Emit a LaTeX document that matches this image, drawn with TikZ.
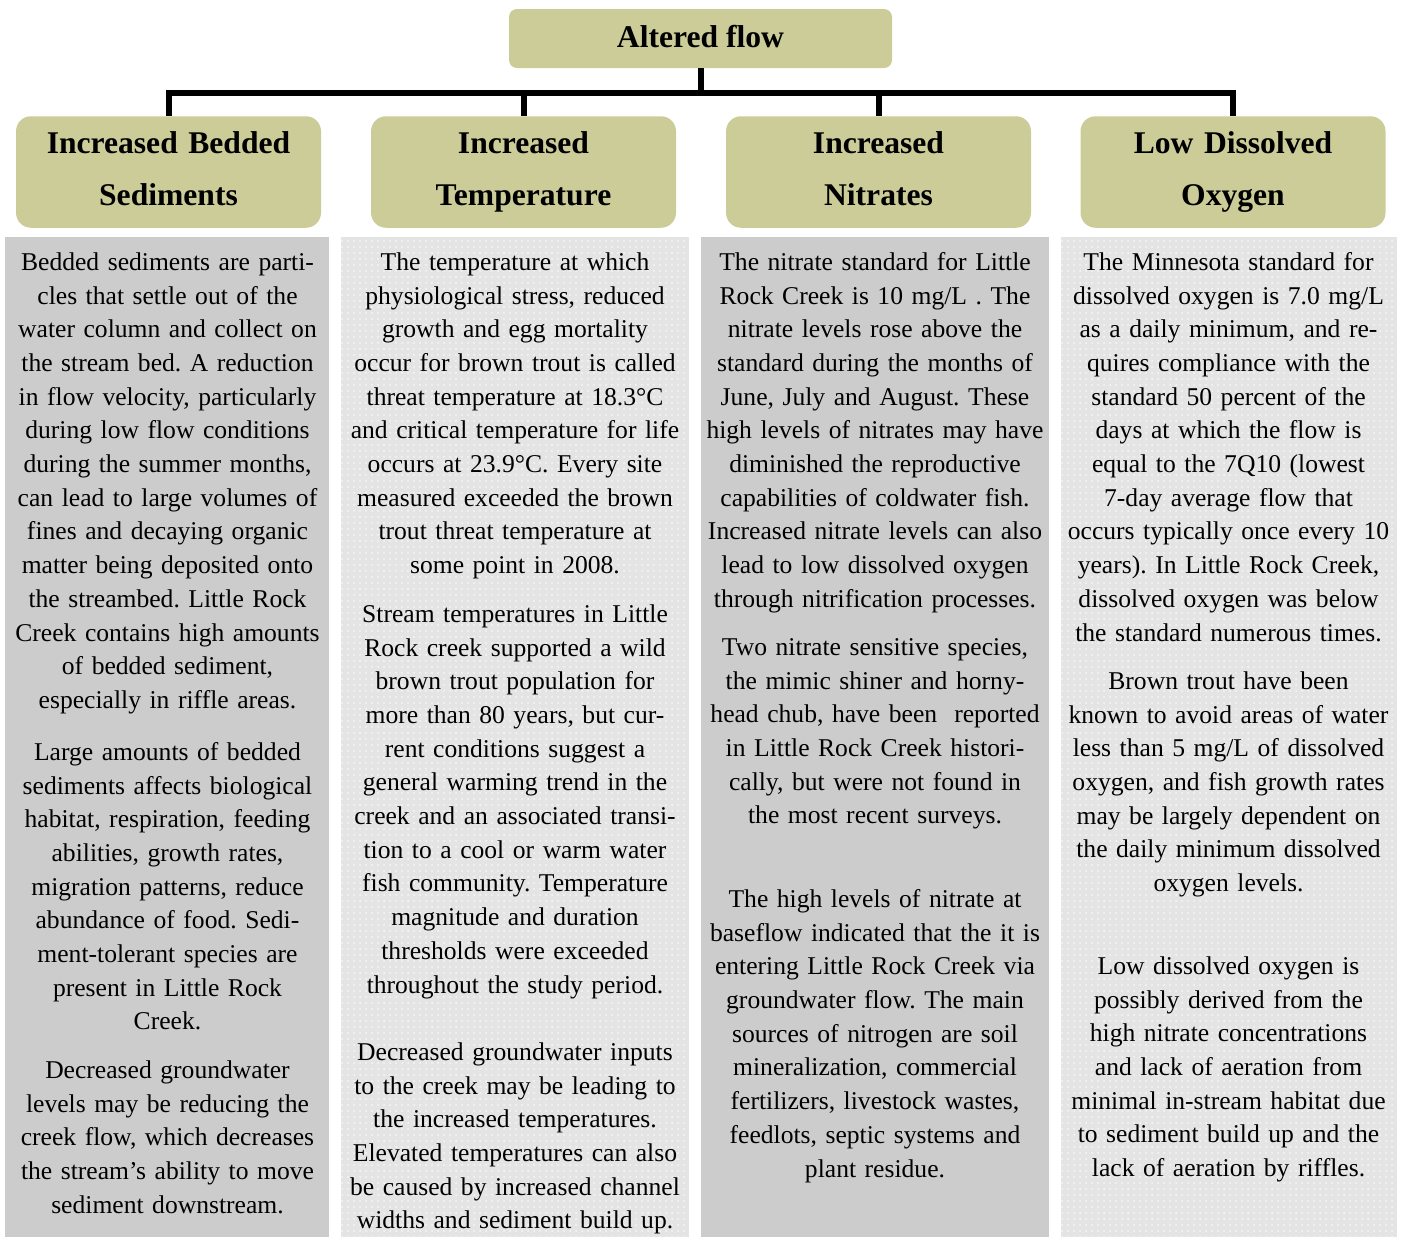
\documentclass[tikz,border=0pt]{standalone}
\usepackage{fontspec}
\setmainfont{Liberation Serif}
\usetikzlibrary{patterns}
\frenchspacing
\definecolor{headfill}{HTML}{CCCC99}
\definecolor{darkpanel}{HTML}{CCCCCC}
\definecolor{lightpanel}{HTML}{E4E4E4}
\tikzset{
  headbox/.style={draw=none, fill=headfill, rounded corners=7.5pt, minimum width=152.5pt, minimum height=53.5pt, inner sep=0pt, text width=150pt, align=center, font=\fontsize{15.8}{26.25}\selectfont\bfseries},
  topbox/.style={draw=none, fill=headfill, rounded corners=4pt, minimum width=191.5pt, minimum height=29.5pt, inner sep=0pt, font=\fontsize{15.8}{19}\selectfont\bfseries},
  body/.style={anchor=north, inner sep=0pt, text width=190pt, align=center, font=\fontsize{12.8}{16.85}\selectfont},
  conn/.style={line width=3pt, line join=miter}
}
\newcommand{\hstart}{\rule{0pt}{18.4pt}}
\newcommand{\hend}{\rule[-11.1pt]{0pt}{11.1pt}}
\begin{document}
\begin{tikzpicture}[x=0.5pt, y=-0.5pt]
\useasboundingbox (0,0) rectangle (1403,1237);
% panels
\fill[darkpanel] (5,237) rectangle (329,1237);
\fill[lightpanel] (341,237) rectangle (689,1237);
\fill[pattern=dots, pattern color=white!70!lightpanel] (341,237) rectangle (689,1237);
\fill[darkpanel] (701,237) rectangle (1049,1237);
\fill[lightpanel] (1061,237) rectangle (1397,1237);
\fill[pattern=dots, pattern color=white!70!lightpanel] (1061,237) rectangle (1397,1237);
% boxes
\node[topbox] (top) at (700.5,38.5) {\rule[-2.5pt]{0pt}{11pt}Altered flow};
\node[headbox] (h1) at (168.5,172) {\hstart Increased Bedded\\Sediments\hend};
\node[headbox] (h2) at (523.5,172) {\hstart Increased\\Temperature\hend};
\node[headbox] (h3) at (878.5,172) {\hstart Increased\\Nitrates\hend};
\node[headbox] (h4) at (1233,172) {\hstart Low Dissolved\\Oxygen\hend};
% connectors
\draw[conn] (top.south) -- ++(0,25) -| (h1.north);
\draw[conn] (top.south) -- ++(0,25) -| (h2.north);
\draw[conn] (top.south) -- ++(0,25) -| (h3.north);
\draw[conn] (top.south) -- ++(0,25) -| (h4.north);
% column 1
\node[body] (c1a) at (167.5,246.4) {\strut Bedded sediments are parti-\\cles that settle out of the\\water column and collect on\\the stream bed. A reduction\\in flow velocity, particularly\\during low flow conditions\\during the summer months,\\can lead to large volumes of\\fines and decaying organic\\matter being deposited onto\\the streambed. Little Rock\\Creek contains high amounts\\of bedded sediment,\\especially in riffle areas.};
\node[body] (c1b) at (167.5,736.4) {\strut Large amounts of bedded\\sediments affects biological\\habitat, respiration, feeding\\abilities, growth rates,\\migration patterns, reduce\\abundance of food. Sedi-\\ment-tolerant species are\\present in Little Rock\\Creek.};
\node[body] (c1c) at (167.5,1054.4) {\strut Decreased groundwater\\levels may be reducing the\\creek flow, which decreases\\the stream’s ability to move\\sediment downstream.};
% column 2
\node[body] (c2a) at (515,246.4) {\strut The temperature at which\\physiological stress, reduced\\growth and egg mortality\\occur for brown trout is called\\threat temperature at 18.3°C\\and critical temperature for life\\occurs at 23.9°C. Every site\\measured exceeded the brown\\trout threat temperature at\\some point in 2008.};
\node[body] (c2b) at (515,598.4) {\strut Stream temperatures in Little\\Rock creek supported a wild\\brown trout population for\\more than 80 years, but cur-\\rent conditions suggest a\\general warming trend in the\\creek and an associated transi-\\tion to a cool or warm water\\fish community. Temperature\\magnitude and duration\\thresholds were exceeded\\throughout the study period.};
\node[body] (c2c) at (515,1036.4) {\strut Decreased groundwater inputs\\to the creek may be leading to\\the increased temperatures.\\Elevated temperatures can also\\be caused by increased channel\\widths and sediment build up.};
% column 3
\node[body] (c3a) at (875,246.4) {\strut The nitrate standard for Little\\Rock Creek is 10 mg/L . The\\nitrate levels rose above the\\standard during the months of\\June, July and August. These\\high levels of nitrates may have\\diminished the reproductive\\capabilities of coldwater fish.\\Increased nitrate levels can also\\lead to low dissolved oxygen\\through nitrification processes.};
\node[body] (c3b) at (875,631.4) {\strut Two nitrate sensitive species,\\the mimic shiner and horny-\\head chub, have been~ reported\\in Little Rock Creek histori-\\cally, but were not found in\\the most recent surveys.};
\node[body] (c3c) at (875,883.4) {\strut The high levels of nitrate at\\baseflow indicated that the it is\\entering Little Rock Creek via\\groundwater flow. The main\\sources of nitrogen are soil\\mineralization, commercial\\fertilizers, livestock wastes,\\feedlots, septic systems and\\plant residue.};
% column 4
\node[body] (c4a) at (1228.5,246.4) {\strut The Minnesota standard for\\dissolved oxygen is 7.0 mg/L\\as a daily minimum, and re-\\quires compliance with the\\standard 50 percent of the\\days at which the flow is\\equal to the 7Q10 (lowest\\7-day average flow that\\occurs typically once every 10\\years). In Little Rock Creek,\\dissolved oxygen was below\\the standard numerous times.};
\node[body] (c4b) at (1228.5,665.4) {\strut Brown trout have been\\known to avoid areas of water\\less than 5 mg/L of dissolved\\oxygen, and fish growth rates\\may be largely dependent on\\the daily minimum dissolved\\oxygen levels.};
\node[body] (c4c) at (1228.5,950.4) {\strut Low dissolved oxygen is\\possibly derived from the\\high nitrate concentrations\\and lack of aeration from\\minimal in-stream habitat due\\to sediment build up and the\\lack of aeration by riffles.};
\end{tikzpicture}
\end{document}
